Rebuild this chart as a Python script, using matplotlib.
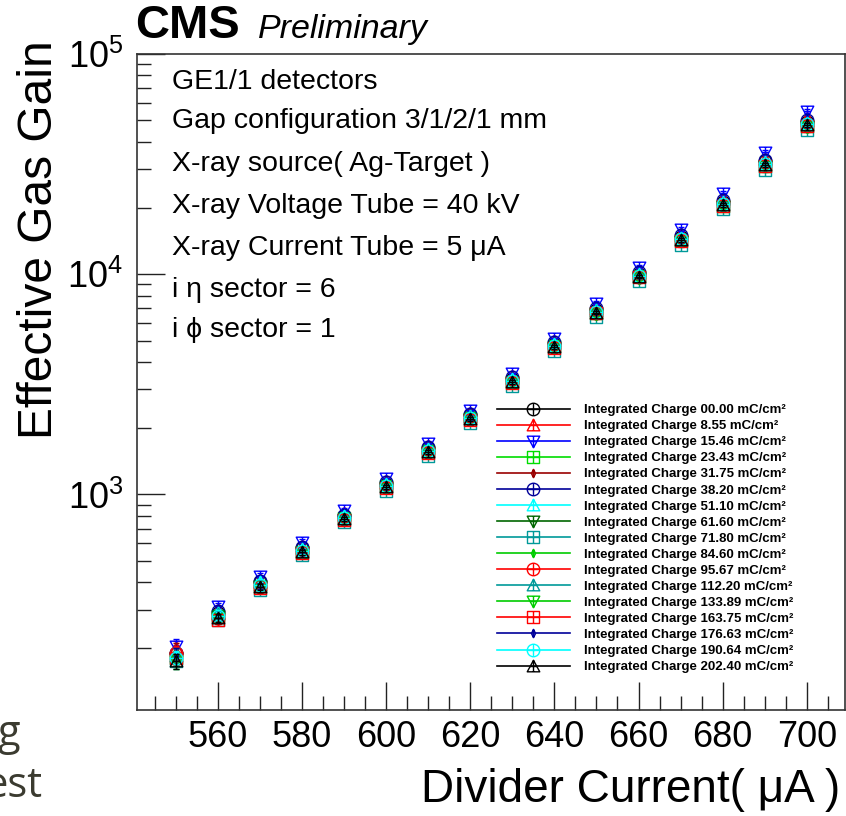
import matplotlib.pyplot as plt
from matplotlib.path import Path
from matplotlib.lines import Line2D
from matplotlib.ticker import MultipleLocator, LogLocator, NullFormatter

plt.rcParams['font.family'] = ['Liberation Sans', 'DejaVu Sans']
plt.rcParams['mathtext.default'] = 'regular'

# Divider current (uA)
current = [550, 560, 570, 580, 590, 600, 610, 620, 630, 640, 650, 660, 670, 680, 690, 700]

# Integrated charge labels (mC/cm2)
charges = ['00.00', '8.55', '15.46', '23.43', '31.75', '38.20', '51.10', '61.60', '71.80',
           '84.60', '95.67', '112.20', '133.89', '163.75', '176.63', '190.64', '202.40']

# Effective gas gain, one list per integrated charge
gain_00_00 = [190, 290, 400, 570, 800, 1120, 1620, 2290, 3350, 4800, 6900, 10000, 14700, 21300, 32500, 49000]
gain_8_55 = [200, 300, 410, 585, 820, 1150, 1660, 2350, 3450, 4950, 7100, 10300, 15200, 22000, 33500, 51000]
gain_15_46 = [205, 310, 425, 610, 850, 1190, 1720, 2430, 3550, 5150, 7400, 10800, 16000, 23500, 36000, 55000]
gain_23_43 = [180, 280, 385, 550, 780, 1090, 1570, 2220, 3250, 4700, 6700, 9800, 14300, 20500, 31000, 47000]
gain_31_75 = [195, 295, 400, 575, 810, 1130, 1630, 2300, 3380, 4850, 6950, 10100, 14800, 21500, 32800, 49500]
gain_38_20 = [190, 295, 405, 580, 810, 1140, 1650, 2320, 3400, 4900, 7000, 10200, 15000, 21800, 33000, 50000]
gain_51_10 = [185, 290, 400, 565, 800, 1110, 1610, 2280, 3330, 4800, 6850, 10000, 14600, 21200, 32200, 48800]
gain_61_60 = [180, 280, 385, 550, 775, 1080, 1560, 2200, 3230, 4650, 6650, 9700, 14200, 20500, 31000, 47000]
gain_71_80 = [175, 270, 370, 530, 750, 1040, 1500, 2120, 3100, 4480, 6400, 9300, 13600, 19700, 29800, 45000]
gain_84_60 = [185, 285, 390, 560, 790, 1100, 1590, 2250, 3300, 4750, 6800, 9900, 14500, 21000, 31800, 48200]
gain_95_67 = [190, 275, 380, 545, 770, 1080, 1560, 2210, 3240, 4680, 6700, 9750, 14300, 20800, 31500, 47800]
gain_112_20 = [185, 285, 390, 555, 785, 1095, 1580, 2240, 3280, 4730, 6780, 9850, 14400, 20900, 31700, 48000]
gain_133_89 = [175, 275, 380, 545, 770, 1070, 1550, 2190, 3200, 4620, 6620, 9650, 14100, 20400, 31000, 46800]
gain_163_75 = [180, 270, 375, 540, 765, 1065, 1545, 2185, 3200, 4630, 6640, 9700, 14150, 20500, 31100, 47000]
gain_176_63 = [185, 280, 385, 550, 780, 1085, 1570, 2225, 3260, 4700, 6740, 9800, 14350, 20800, 31500, 47800]
gain_190_64 = [180, 280, 390, 555, 785, 1090, 1580, 2235, 3280, 4720, 6770, 9850, 14400, 20900, 31700, 48100]
gain_202_40 = [175, 275, 380, 545, 775, 1080, 1565, 2210, 3240, 4680, 6700, 9760, 14250, 20650, 31300, 47500]

gains = [gain_00_00, gain_8_55, gain_15_46, gain_23_43, gain_31_75, gain_38_20, gain_51_10,
         gain_61_60, gain_71_80, gain_84_60, gain_95_67, gain_112_20, gain_133_89,
         gain_163_75, gain_176_63, gain_190_64, gain_202_40]

# relative uncertainty per divider current point
rel_err = [0.08, 0.04, 0.03, 0.03, 0.02, 0.02, 0.02, 0.02, 0.02, 0.02, 0.02, 0.02, 0.02, 0.02, 0.02, 0.02, 0.02]

colors = ['#000000', '#ff0000', '#0000ff', '#00dd00', '#990000', '#000099', '#00ffff', '#006600',
          '#009999', '#00cc00', '#ff0000', '#009999', '#00cc00', '#ff0000', '#000099', '#00ffff', '#000000']
kinds = ['circle', 'tup', 'tdown', 'square', 'diamond', 'circle', 'tup', 'tdown', 'square',
         'diamond', 'circle', 'tup', 'tdown', 'square', 'diamond', 'circle', 'tup']

M, L, C = Path.MOVETO, Path.LINETO, Path.CLOSEPOLY


def seg(p0, p1):
    return Path([p0, p1], [M, L])


markers = {
    'circle': Path.make_compound_path(Path.unit_circle(), seg((-1, 0), (1, 0)), seg((0, -1), (0, 1))),
    'tup': Path.make_compound_path(Path([(-1, -0.85), (1, -0.85), (0, 1), (-1, -0.85)], [M, L, L, C]),
                                   seg((0, -0.85), (0, 1)), seg((-0.55, 0), (0.55, 0))),
    'tdown': Path.make_compound_path(Path([(-1, 0.85), (1, 0.85), (0, -1), (-1, 0.85)], [M, L, L, C]),
                                     seg((0, 0.85), (0, -1)), seg((-0.55, 0), (0.55, 0))),
    'square': Path.make_compound_path(Path([(-1, -1), (1, -1), (1, 1), (-1, 1), (-1, -1)], [M, L, L, L, C]),
                                      seg((-1, 0), (1, 0)), seg((0, -1), (0, 1))),
    'diamond': Path.make_compound_path(Path([(0, -1), (0.5, 0), (0, 1), (-0.5, 0), (0, -1)], [M, L, L, L, C]),
                                       seg((0, -1), (0, 1))),
}

fig = plt.figure(figsize=(8.46, 8.16), dpi=100)
ax = fig.add_axes([137 / 846, 106 / 816, 708 / 846, 656 / 816])

handles = []
for g, col, kind, ch in zip(gains, colors, kinds, charges):
    err = [v * e for v, e in zip(g, rel_err)]
    ms = 6 if kind == 'diamond' else 9
    ax.errorbar(current, g, yerr=err, fmt='none', ecolor=col, elinewidth=1, capsize=2.5)
    ax.plot(current, g, linestyle='none', marker=markers[kind], markersize=ms,
            markerfacecolor='none', markeredgecolor=col, markeredgewidth=1)
    handles.append(Line2D([], [], color=col, lw=1.2, marker=markers[kind], markersize=ms,
                          markerfacecolor='none', markeredgecolor=col, markeredgewidth=1,
                          label='Integrated Charge ' + ch + ' mC/cm²'))

ax.set_yscale('log')
ax.set_xlim(540.75, 709.1)
ax.set_ylim(105, 1e5)

ax.xaxis.set_major_locator(MultipleLocator(20))
ax.xaxis.set_minor_locator(MultipleLocator(5))
ax.yaxis.set_major_locator(LogLocator(base=10))
ax.yaxis.set_minor_locator(LogLocator(base=10, subs=range(2, 10)))
ax.yaxis.set_minor_formatter(NullFormatter())

ax.tick_params(which='both', direction='in', top=False, right=False, width=1, color='#222222')
ax.tick_params(which='major', length=20, labelsize=26, pad=7)
ax.tick_params(which='minor', length=10)
ax.tick_params(axis='y', which='major', pad=10)
for sp in ax.spines.values():
    sp.set_linewidth(1.2)
    sp.set_color('#333333')

leg = fig.legend(handles=handles, loc='upper left', bbox_to_anchor=(497 / 846, 1 - 404 / 816),
                 frameon=False, borderpad=0, borderaxespad=0, handlelength=5.5,
                 handletextpad=1.1, labelspacing=0.29, numpoints=1,
                 prop={'weight': 'bold', 'size': 9.5})

# Axis titles
fig.text(840 / 846, 1 - 790 / 816, 'Divider Current( μA )', ha='right', va='center', fontsize=33)
fig.text(40 / 846, 1 - 240 / 816, 'Effective Gas Gain', ha='center', va='center', fontsize=34.5,
         rotation=90)

fig.text(135 / 846, 1 - 38 / 816, 'CMS', fontsize=34, fontweight='bold', va='baseline')
fig.text(258 / 846, 1 - 38 / 816, 'Preliminary', fontsize=24.5, style='italic', va='baseline')

info = ['GE1/1 detectors', 'Gap configuration 3/1/2/1 mm', 'X-ray source( Ag-Target )',
        'X-ray Voltage Tube = 40 kV', 'X-ray Current Tube = 5 μA', 'i η sector = 6', 'i ϕ sector = 1']
info_y = [82, 121, 164, 206, 248, 290, 330]
for t, y in zip(info, info_y):
    fig.text(172 / 846, 1 - y / 816, t, fontsize=20.5, va='center')

# leftover slide text at the bottom-left edge
fig.text(20 / 846, 1 - 745 / 816, 'g', fontsize=30, family='Open Sans', color='#3b3b30',
         ha='right', va='baseline')
fig.text(43 / 846, 1 - 797 / 816, 'est', fontsize=30, family='Open Sans', color='#3b3b30',
         ha='right', va='baseline')

fig.savefig('out.png', dpi=100)
